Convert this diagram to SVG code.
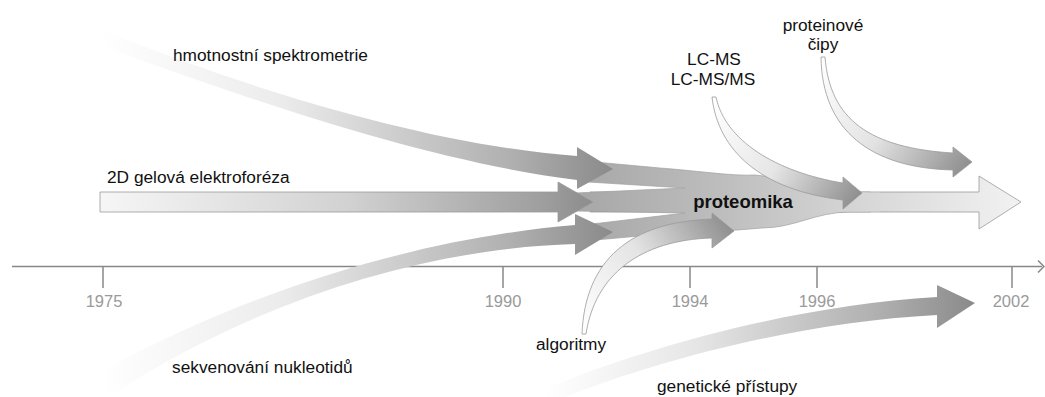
<svg xmlns="http://www.w3.org/2000/svg" width="1045" height="397" viewBox="0 0 1045 397">
<defs>
<style>
.lbl{font-family:"Liberation Sans",Arial,sans-serif;font-size:17.3px;fill:#111}
.yr{font-family:"Liberation Sans",Arial,sans-serif;font-size:16.5px;fill:#9a9a9a;text-anchor:middle}
.axis{stroke:#888;stroke-width:1.5;fill:none}
.rib{stroke:#9a9a9a;stroke-width:0.8}
.band{stroke:none}
</style>
<linearGradient id="gGel" gradientUnits="userSpaceOnUse" x1="100" y1="0" x2="593" y2="0">
<stop offset="0" stop-color="#f6f6f6"/><stop offset="0.5" stop-color="#d2d2d2"/><stop offset="0.9" stop-color="#9e9e9e"/><stop offset="1" stop-color="#8c8c8c"/>
</linearGradient>
<linearGradient id="gRes" gradientUnits="userSpaceOnUse" x1="590" y1="0" x2="1021" y2="0">
<stop offset="0" stop-color="#a9a9a9"/><stop offset="0.3" stop-color="#bdbdbd"/><stop offset="0.65" stop-color="#d8d8d8"/><stop offset="1" stop-color="#f2f2f2"/>
</linearGradient>
<linearGradient id="gHmot" gradientUnits="userSpaceOnUse" x1="100" y1="0" x2="613" y2="0">
<stop offset="0" stop-color="#ffffff"/><stop offset="0.35" stop-color="#ececec"/><stop offset="0.8" stop-color="#b0b0b0"/><stop offset="1" stop-color="#8a8a8a"/>
</linearGradient>
<linearGradient id="gGen" gradientUnits="userSpaceOnUse" x1="545" y1="0" x2="975" y2="0">
<stop offset="0" stop-color="#ffffff"/><stop offset="0.35" stop-color="#e6e6e6"/><stop offset="0.8" stop-color="#acacac"/><stop offset="1" stop-color="#8a8a8a"/>
</linearGradient>
<linearGradient id="gLC" gradientUnits="userSpaceOnUse" x1="715" y1="100" x2="862" y2="192">
<stop offset="0" stop-color="#ffffff"/><stop offset="0.5" stop-color="#e6e6e6"/><stop offset="1" stop-color="#8e8e8e"/>
</linearGradient>
<linearGradient id="gCip" gradientUnits="userSpaceOnUse" x1="822" y1="60" x2="972" y2="162">
<stop offset="0" stop-color="#ffffff"/><stop offset="0.5" stop-color="#e2e2e2"/><stop offset="1" stop-color="#8e8e8e"/>
</linearGradient>
<linearGradient id="gAlg" gradientUnits="userSpaceOnUse" x1="584" y1="333" x2="734" y2="231">
<stop offset="0" stop-color="#ffffff"/><stop offset="0.5" stop-color="#e4e4e4"/><stop offset="1" stop-color="#8e8e8e"/>
</linearGradient>
</defs>
<rect width="1045" height="397" fill="#ffffff"/>

<g id="timeline">
<line class="axis" x1="12" y1="266.5" x2="1042" y2="266.5"/>
<polyline class="axis" points="1038,260.5 1044,266.5 1038,272.5" stroke-width="2"/>
<line class="axis" x1="103" y1="266.5" x2="103" y2="288"/>
<line class="axis" x1="503" y1="266.5" x2="503" y2="288"/>
<line class="axis" x1="690" y1="266.5" x2="690" y2="288"/>
<line class="axis" x1="817" y1="266.5" x2="817" y2="288"/>
<line class="axis" x1="1012" y1="266.5" x2="1012" y2="288"/>
<text class="yr" x="104" y="307">1975</text>
<text class="yr" x="503" y="307">1990</text>
<text class="yr" x="690" y="307">1994</text>
<text class="yr" x="817" y="307">1996</text>
<text class="yr" x="1011" y="307">2002</text>
</g>

<g id="connectors">
<path id="result-arrow" class="rib" fill="url(#gRes)" d="M 590,192 L 979,192 L 979,176 L 1021,202 L 979,229 L 979,212 L 590,212 Z"/>
<path id="funnel" fill="url(#gRes)" stroke="#a0a0a0" stroke-width="0.7" d="M 595,162 L 660,168 C 700,171 730,176 755,175 C 790,178 820,190 850,192 L 870,192 L 870,212 L 850,212 C 815,212 795,228 762,228 L 700,233 L 640,236 L 595,240 L 592,224 L 685,213 L 575,211 L 575,193 L 685,188 L 588,182 Z"/>
<rect x="845" y="192.6" width="35" height="18.8" fill="url(#gRes)"/>
<path id="gel-arrow" class="rib" fill="url(#gGel)" d="M 100,192 L 558,192 L 558,182 L 593,202 L 558,222 L 558,212 L 100,212 Z"/>
<path id="hmot-arrow" class="band" fill="url(#gHmot)" d="M 97,28 C 250,90 430,145 577,156 L 577,147 L 613,169 L 577,189 L 577,180 C 430,162 250,100 102,46 Z"/>
<path id="sekv-arrow" class="band" fill="url(#gHmot)" d="M 100,372 C 250,290 420,238 575,225 L 575,214 L 613,232 L 575,255 L 575,244 C 430,248 260,298 110,396 Z"/>
<path id="alg-arrow" class="rib" fill="url(#gAlg)" d="M 582,334 C 585,260 630,222 712,219 L 712,213 L 734,231 L 712,248 L 712,238 C 640,240 595,275 586,334 Z"/>
<path id="lcms-arrow" class="rib" fill="url(#gLC)" d="M 716,97 C 725,140 775,172 843,183 L 843,177 L 862,193 L 843,209 L 843,200 C 760,190 718,150 712,97 Z"/>
<path id="cip-arrow" class="rib" fill="url(#gCip)" d="M 825,57 C 830,120 870,148 953,153 L 953,147 L 972,162 L 953,177 L 953,170 C 870,168 822,130 821,57 Z"/>
<path id="gen-arrow" class="band" fill="url(#gGen)" d="M 545,389 C 650,345 800,305 937,297 L 937,285 L 975,303 L 937,328 L 937,315 C 800,322 660,360 565,397 L 545,397 Z"/>
</g>

<g id="node-hmot"><text class="lbl" x="173" y="61">hmotnostní spektrometrie</text></g>
<g id="node-gel"><text class="lbl" x="107" y="183">2D gelová elektroforéza</text></g>
<g id="node-sekv"><text class="lbl" x="172" y="373">sekvenování nukleotidů</text></g>
<g id="node-alg"><text class="lbl" x="536" y="350">algoritmy</text></g>
<g id="node-gen"><text class="lbl" x="657" y="392">genetické přístupy</text></g>
<g id="node-lcms"><text class="lbl" x="714" y="65" text-anchor="middle">LC-MS</text><text class="lbl" x="713" y="85" text-anchor="middle">LC-MS/MS</text></g>
<g id="node-cip"><text class="lbl" x="823" y="31" text-anchor="middle">proteinové</text><text class="lbl" x="823" y="50" text-anchor="middle">čipy</text></g>
<g id="node-proteomika"><text class="lbl" x="743" y="208" text-anchor="middle" style="font-weight:bold;font-size:18.5px">proteomika</text></g>
</svg>
